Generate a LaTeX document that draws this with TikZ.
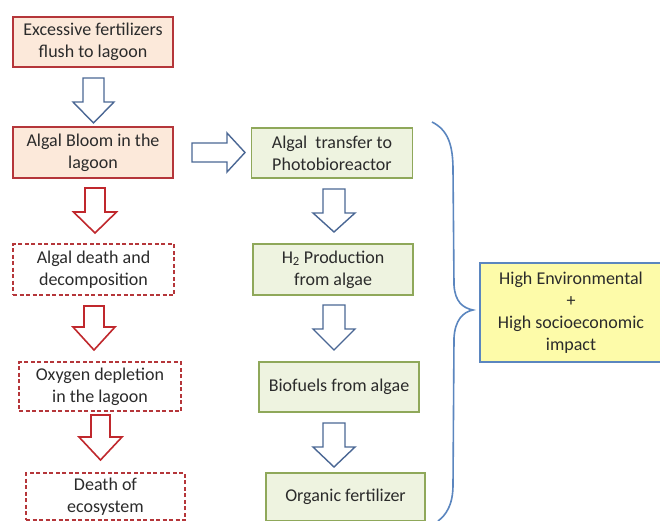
\documentclass[tikz,border=0pt]{standalone}
\usepackage{fontspec}
\setmainfont{Carlito}
\definecolor{redline}{HTML}{B5363A}
\definecolor{redarrow}{HTML}{C0282D}
\definecolor{peach}{HTML}{FCE9DA}
\definecolor{greenline}{HTML}{8FA85A}
\definecolor{greenfill}{HTML}{EEF3E0}
\definecolor{bluearrow}{HTML}{4A6794}
\definecolor{bluebrace}{HTML}{5B86BF}
\definecolor{yellowfill}{HTML}{FDFBA9}
\definecolor{textgray}{HTML}{2B2B2B}
\tikzset{
  box/.style={draw, line width=1.4pt, align=center, inner sep=0pt,
    font=\fontsize{18}{22}\selectfont, text=textgray},
  redsolid/.style={box, draw=redline, fill=peach},
  reddash/.style={box, draw=redline, fill=white, dash pattern=on 4pt off 2.5pt},
  greenbox/.style={box, draw=greenline, fill=greenfill},
  yellowbox/.style={box, draw=bluebrace, fill=yellowfill},
  bluearr/.style={draw=bluearrow, fill=white, line width=1.4pt, line join=miter},
  redarr/.style={draw=redarrow, fill=white, line width=1.6pt, line join=miter},
}
\newcommand{\vblock}[7]{%
  \draw[#7] ({#1-#5},#2) -- ({#1+#5},#2) -- ({#1+#5},#3) -- ({#1+#6},#3) --
    (#1,#4) -- ({#1-#6},#3) -- ({#1-#5},#3) -- cycle;}
\begin{document}
\begin{tikzpicture}[x=1pt,y=-1pt]
\useasboundingbox (0,0) rectangle (660,521);
\fill[white] (0,0) rectangle (660,521);
% left column
\node[redsolid, minimum width=160pt, minimum height=50pt] (b1) at (93,42) {Excessive fertilizers\\flush to lagoon};
\node[redsolid, minimum width=160pt, minimum height=51pt] (b2) at (93,152.5) {Algal Bloom in the\\lagoon};
\node[reddash, minimum width=161pt, minimum height=51pt] (b3) at (93.5,269.5) {Algal death and\\decomposition};
\node[reddash, minimum width=162pt, minimum height=49pt] (b4) at (100,386.5) {Oxygen depletion\\in the lagoon};
\node[reddash, minimum width=159pt, minimum height=47pt] (b5) at (105.5,496.5) {Death of\\ecosystem};
% middle column
\node[greenbox, minimum width=161pt, minimum height=50pt] (g1) at (332,153) {Algal\ \ transfer to\\Photobioreactor};
\node[greenbox, minimum width=160pt, minimum height=51pt] (g2) at (333,269.5) {H\textsubscript{2} Production\\from algae};
\node[greenbox, minimum width=160pt, minimum height=50pt] (g3) at (339,387) {Biofuels from algae};
\node[greenbox, minimum width=159pt, minimum height=48pt] (g4) at (345.5,497) {Organic fertilizer};
% right box
\node[yellowbox, minimum width=182pt, minimum height=99pt] (y) at (571,312.5) {High Environmental\\+\\High socioeconomic\\impact};
% block arrows
\vblock{93.5}{78}{102}{123}{10.5}{20.5}{bluearr}
\vblock{95}{188}{212}{233}{10}{21.5}{redarr}
\vblock{94}{306}{327}{350}{10}{21}{redarr}
\vblock{100.5}{415}{437}{460}{9.5}{21.5}{redarr}
\vblock{334}{189}{213}{232}{11}{21}{bluearr}
\vblock{334}{305}{329}{350}{11}{21}{bluearr}
\vblock{334}{423}{447}{467}{11}{21}{bluearr}
\draw[bluearr] (192,143) -- (227,143) -- (227,133) -- (245,152.5) -- (227,172) -- (227,162) -- (192,162) -- cycle;
% brace
\coordinate (bt) at (432,122);
\coordinate (btip) at (473,310);
\coordinate (bb) at (438,521);
\draw[bluebrace, line width=1.6pt]
  (bt) .. controls (448,130) and (453,145) .. (453,170)
  -- (454,285) .. controls (455,302) and (463,308) .. (btip)
  .. controls (463,312) and (455,320) .. (454,338)
  -- (453,485) .. controls (453,505) and (446,515) .. (bb);
\end{tikzpicture}
\end{document}
